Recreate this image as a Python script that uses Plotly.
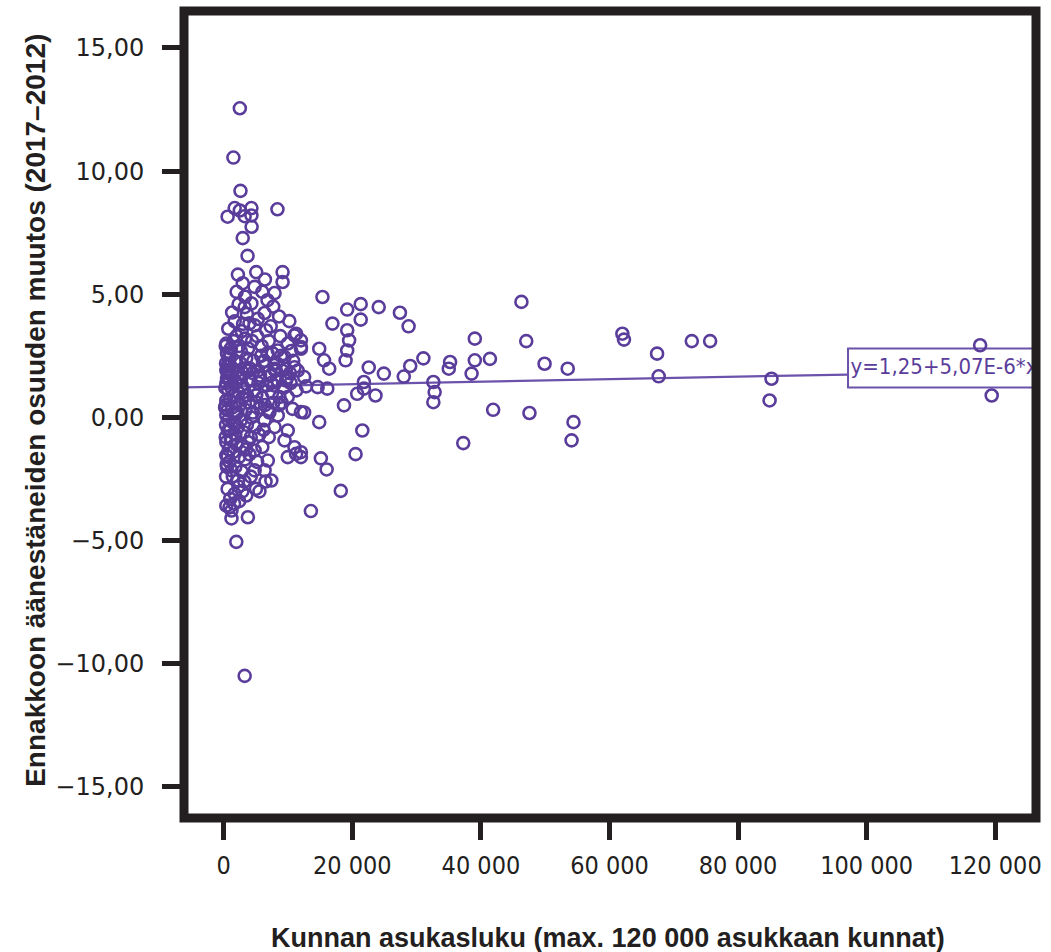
import plotly.graph_objects as go

# ---- data ----
population = [
    # outliers / sparse upper points
    2500, 1500, 2600, 8350, 600, 1700, 2500, 4300, 4300, 3250, 4330, 2950, 3700,
    2200, 5050, 9150, 9150, 2950, 6000, 7900, 6800, 4300, 1300, 3250, 6350, 10200,
    4800, 4000, 6600, 11250, 11000, 400, 9950, 12000, 8400, 9450, 1950, 6100, 7900,
    11000, 12500, 400,
    # mid range
    15350, 19200, 21300, 24100, 27400, 28750, 21300, 16900, 19200, 19500, 19200,
    18950, 14850, 12000, 12000, 15600, 16400, 22550, 24900, 28000, 29000, 31050,
    35200, 35000, 39050, 47050, 46300, 62000, 62250, 72800, 75650, 67400, 67650,
    85200, 84900, 117650, 119450, 39050, 41400, 38550, 49900, 53500, 32600, 32800,
    32600, 41900, 47550, 54400, 54100, 37250, 21800, 21800, 20750, 23600, 18700,
    16100, 14600, 12800, 12500, 14850, 21550, 20500, 15100, 16000, 18200, 13550,
    12000,
    # low points
    1950, 3750, 1200, 900, 5550, 6500, 6850, 11250, 9950, 8650, 9950, 400, 12000,
    11000, 9450, 7900, 9950, 6350, 3500, 1700, 400, 1200, 7400, 4800, 2200, 1200,
    4800, 3750, 650, 3250, 400, 12000, 10700, 400, 1700, 6350, 8400,
    # dense cluster of small municipalities
    300, 500, 800, 1100, 1500, 2000, 2400, 2800, 3300, 3800, 4400, 5200, 5900, 7000,
    7600, 8800, 10500,
    350, 700, 1000, 1300, 1700, 2100, 2600, 3000, 3500, 4000, 4600, 5300, 5800, 6500,
    7200, 8200, 9100, 9800, 10800, 11500,
    400, 700, 900, 1200, 1500, 1900, 2300, 2700, 3100, 3600, 4100, 4700, 5400, 6000,
    6700, 7500, 8300, 9300, 10400, 11300,
    300, 600, 900, 1300, 1700, 2100, 2500, 2900, 3400, 3900, 4500, 5100, 5700, 6400,
    7100, 7700,
    350, 700, 1000, 1400, 1800, 2200, 2700, 3100, 3600, 4200, 4900, 5500, 6200, 7000,
    400, 800, 1100, 1500, 2000, 2400, 2900, 3300, 4000, 5200, 6000,
    500, 900, 1400, 1800, 2300, 2800, 3200, 4200, 5000,
    600, 1000, 1600, 2400, 2900,
    700, 1700, 2300, 3000, 3600, 5300, 7300, 8600, 2000, 4800, 6400, 3300, 7700,
    500, 600, 250, 300, 450, 550, 200, 350, 650, 1250, 1850, 2650, 3450, 4250,
    5050, 5650, 6900, 8000, 9000,
    4500, 5600, 6300, 7400, 8100, 8900, 9700, 10300, 5000, 6800, 7800, 8600, 9400,
    2200, 2800, 3400, 1600, 1000, 600, 3900,
]
share_change = [
    12.55, 10.55, 9.2, 8.45, 8.15, 8.5, 8.4, 8.5, 8.2, 8.17, 7.74, 7.28, 6.56,
    5.8, 5.9, 5.9, 5.5, 5.45, 5.1, 5.05, 4.76, 4.63, 4.26, 4.48, 4.24, 3.91,
    3.74, 3.82, 3.54, 3.4, 3.33, 3.0, 3.0, 2.86, 2.72, 2.45, 2.25, 2.25, 1.98,
    2.04, 1.64, 1.91,
    4.89, 4.38, 4.6, 4.48, 4.25, 3.7, 3.97, 3.81, 3.54, 3.13, 2.72,
    2.32, 2.79, 3.13, 2.79, 2.32, 1.98, 2.03, 1.78, 1.66, 2.09, 2.4,
    2.25, 1.98, 3.2, 3.1, 4.69, 3.4, 3.16, 3.1, 3.1, 2.59, 1.67,
    1.57, 0.69, 2.93, 0.89, 2.32, 2.38, 1.78, 2.18, 1.98, 1.44, 1.03,
    0.62, 0.31, 0.18, -0.19, -0.93, -1.04, 1.44, 1.17, 0.96, 0.89, 0.49,
    1.17, 1.23, 1.26, 0.2, -0.19, -0.53, -1.49, -1.66, -2.11, -2.98, -3.8,
    -1.61,
    -5.05, -4.05, -4.1, -3.65, -3.0, -2.6, -1.75, -1.48, -1.61, 0.83, 0.83, -1.54, -1.41,
    -1.21, -0.93, -0.39, -0.53, -2.15, -3.17, -3.1, -3.58, -3.78, -2.56, -2.15, -2.56, -2.15,
    -1.34, -1.0, -0.53, -10.49, 0.69, 0.22, 0.35, 0.08, -0.26, -0.12, 0.08,
    2.9, 2.6, 2.4, 2.8, 3.1, 3.3, 2.9, 3.5, 3.2, 2.8, 3.1, 3.3, 2.9, 3.1,
    2.6, 3.3, 2.7,
    2.2, 1.9, 2.1, 1.7, 2.3, 1.9, 2.2, 1.8, 2.4, 2.0, 2.3, 1.9, 2.5, 2.1,
    1.7, 2.2, 1.9, 1.6, 2.3, 1.9,
    1.4, 1.1, 1.5, 1.2, 0.9, 1.4, 1.0, 1.6, 1.2, 0.9, 1.5, 1.1, 1.4, 0.8,
    1.3, 1.0, 1.5, 1.2, 1.4, 1.1,
    0.5, 0.3, 0.7, 0.4, 0.6, 0.2, 0.5, 0.8, 0.3, 0.6, 0.2, 0.6, 0.4, 0.5,
    0.2, 0.6,
    -0.3, -0.1, -0.5, -0.2, -0.7, -0.4, -0.1, -0.6, -0.3, -0.8, -0.4, -0.7, -0.5, -0.8,
    -1.0, -1.3, -0.9, -1.4, -1.1, -1.6, -1.2, -1.7, -1.5, -1.8, -1.2,
    -2.0, -1.8, -2.4, -2.0, -2.8, -2.2, -2.6, -2.4, -2.9,
    -2.9, -3.3, -3.5, -3.4, -3.0,
    3.6, 3.9, 4.6, 3.8, 4.2, 4.0, 3.7, 4.1, 5.1, 5.3, 5.6, 4.9, 4.5,
    1.6, 2.1, 1.2, -0.8, -1.9, 2.6, 0.4, -2.4, 1.8, -0.9, 0.1, 2.7, -1.3, 0.0,
    0.9, 1.7, 0.3, 1.9, 0.6,
    1.8, 1.6, 2.3, 1.4, 1.9, 2.5, 1.5, 1.8, 0.9, 2.6, 1.3, 0.5, 2.1,
    1.6, 1.3, 2.0, 0.2, 2.6, -1.6, 1.9,
]

fit_intercept = 1.25
fit_slope = 5.07e-6
fit_label = "y=1,25+5,07E-6*x"
x_ticks = [0, 20000, 40000, 60000, 80000, 100000, 120000]
y_ticks = [-15, -10, -5, 0, 5, 10, 15]
x_title = "Kunnan asukasluku (max. 120 000 asukkaan kunnat)"
y_title = "Ennakkoon äänestäneiden osuuden muutos (2017–2012)"

X_RANGE = [-6186, 126340]
Y_RANGE = [-16.26, 16.5]
LABEL_X = 97100

PURPLE = "#5a3d9b"
LINE_PURPLE = "#6b52ab"
DARK = "#231f20"
COND = "DejaVu Sans Condensed, DejaVu Sans, sans-serif"
TITLE_FONT = "Liberation Sans, Arial, sans-serif"

fig = go.Figure()

# fit line
fx = [X_RANGE[0], LABEL_X]
fy = [fit_intercept + fit_slope * v for v in fx]
fig.add_trace(go.Scatter(x=fx, y=fy, mode="lines",
                         line=dict(color=LINE_PURPLE, width=2.2),
                         hoverinfo="skip", showlegend=False))

fig.add_trace(go.Scatter(
    x=population, y=share_change, mode="markers",
    marker=dict(symbol="circle-open", size=12, color=PURPLE,
                line=dict(width=2.6, color=PURPLE)),
    showlegend=False))

# equation label (clipped by plot area)
fig.add_trace(go.Scatter(x=[LABEL_X + 400], y=[2.0], mode="text",
                         text=[fit_label], textposition="middle right",
                         textfont=dict(family=COND, size=22, color=PURPLE),
                         hoverinfo="skip", showlegend=False))

fig.add_shape(type="rect", xref="x", yref="y", x0=LABEL_X, x1=X_RANGE[1] + 5000,
              y0=1.22, y1=2.80, line=dict(color=LINE_PURPLE, width=2),
              fillcolor="white", layer="below")

# thick frame
fig.add_shape(type="rect", xref="paper", yref="paper", x0=0, x1=1, y0=0, y1=1,
              line=dict(color=DARK, width=9), layer="above")

fig.update_layout(
    width=1051, height=952,
    margin=dict(l=184, r=10, t=11, b=134),
    paper_bgcolor="white", plot_bgcolor="white",
    separators=", ",
    showlegend=False,
    annotations=[
        dict(text=x_title, xref="paper", yref="paper", x=0.498, y=-0.1487,
             xanchor="center", yanchor="middle", showarrow=False,
             font=dict(family=TITLE_FONT, size=27, color=DARK, weight="bold")),
        dict(text=y_title, xref="paper", yref="paper", x=-0.1739, y=0.5056,
             xanchor="center", yanchor="middle", showarrow=False, textangle=-90,
             font=dict(family=TITLE_FONT, size=28, color=DARK, weight="bold")),
    ],
)
fig.update_xaxes(range=X_RANGE, tickvals=x_ticks, tickformat=",d",
                 ticks="outside", ticklen=21, tickwidth=5, tickcolor=DARK,
                 showgrid=False, zeroline=False, showline=False,
                 tickfont=dict(family=COND, size=25, color=DARK),
                 ticklabelstandoff=4, ticklabeloverflow="allow")
fig.update_yaxes(range=Y_RANGE, tickvals=y_ticks, tickformat=".2f",
                 ticks="outside", ticklen=21, tickwidth=5, tickcolor=DARK,
                 showgrid=False, zeroline=False, showline=False,
                 tickfont=dict(family="DejaVu Sans", size=24, color=DARK),
                 ticklabelstandoff=13)

fig.write_html(
    "out.html",
    config={"displayModeBar": False},
    post_script="document.body.style.margin='0';document.body.style.overflow='hidden';",
)
